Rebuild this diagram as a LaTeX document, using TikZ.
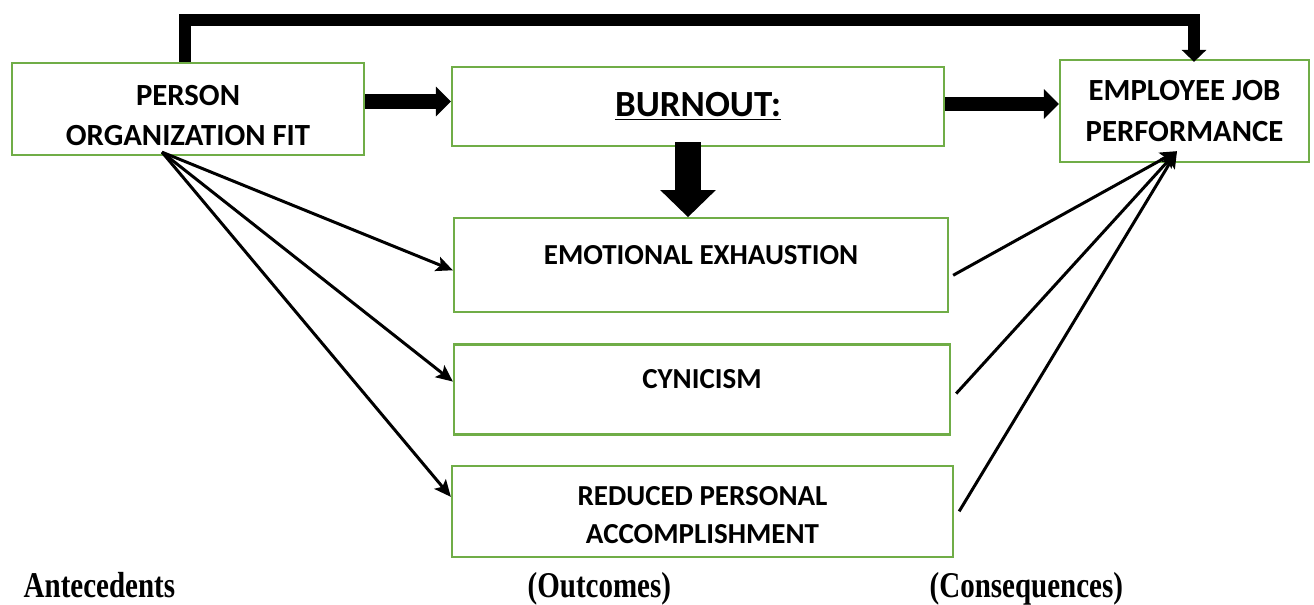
\documentclass[tikz,border=0pt]{standalone}
\usepackage{fontspec}
\setsansfont{Carlito}
\newfontfamily\captionserif{Liberation Serif}
\usepackage{xcolor}
\usepackage{graphicx}
\usepackage{tikz}
\usetikzlibrary{arrows.meta, positioning}
\definecolor{boxgreen}{HTML}{70AD47}

\begin{document}
\begin{tikzpicture}[
        box/.style={rectangle, draw=boxgreen, line width=1.3pt, align=center,
                    font=\sffamily\bfseries\fontsize{16.5}{21.5}\selectfont},
        bigbox/.style={box, font=\sffamily\bfseries\fontsize{17.5}{23}\selectfont},
        thinarr/.style={-{Stealth[length=9.5pt, width=8.5pt, inset=2pt]}, line width=1.7pt},
        fatarr/.style={-{Triangle[length=8.5pt, width=16.5pt]}, line width=8pt},
        downarr/.style={-{Triangle[length=15.4pt, width=30.7pt]}, line width=14.8pt},
        looparr/.style={-{Triangle[length=6.8pt, width=13.7pt]}, line width=6.8pt},
        caption/.style={anchor=base west, font=\captionserif\bfseries\fontsize{16.5}{20}\selectfont}
    ]
        \useasboundingbox (0,0) rectangle (26.28,-12.08);

        \node[bigbox, minimum width=7.04cm, minimum height=1.84cm] (pof) at (3.76,-2.18) {\rule{0pt}{0.67cm}PERSON\\ORGANIZATION FIT};
        \node[box, minimum width=9.84cm, minimum height=1.58cm,
              font=\sffamily\bfseries\fontsize{21}{25}\selectfont] (burnout) at (13.96,-2.13) {\underline{BURNOUT:}};
        \node[bigbox, minimum width=4.98cm, minimum height=2.04cm] (emp) at (23.69,-2.22) {EMPLOYEE JOB\\PERFORMANCE};

        \node[box, minimum width=9.88cm, minimum height=1.88cm, text depth=0.4cm,
              below=1.40cm of burnout, xshift=0.06cm] (emo) {EMOTIONAL EXHAUSTION};
        \node[box, minimum width=9.92cm, minimum height=1.80cm, text depth=0.44cm,
              below=0.60cm of emo, xshift=0.02cm] (cyn) {CYNICISM};
        \node[box, minimum width=10.02cm, minimum height=1.82cm,
              below=0.58cm of cyn, xshift=0.01cm] (rpa) {\rule{0pt}{0.53cm}REDUCED PERSONAL\\ACCOMPLISHMENT};

        \draw[fatarr] ([yshift=0.15cm]pof.east) -- ([yshift=0.15cm]pof.east -| burnout.west);
        \draw[fatarr] ([yshift=0.05cm]burnout.east) -- ([yshift=0.05cm]burnout.east -| emp.west);
        \draw[downarr] ([xshift=-0.2cm, yshift=0.1cm]burnout.south) -- ([xshift=-0.2cm]burnout.south |- emo.north);
        \draw[looparr] ([xshift=-0.06cm]pof.north) -- ++(0,0.84) -| ([xshift=0.19cm, yshift=-0.06cm]emp.north);

        \coordinate (pofout) at ([xshift=-0.52cm, yshift=0.08cm]pof.south);
        \coordinate (empin) at ([xshift=-0.15cm, yshift=0.24cm]emp.south);

        \draw[thinarr] (pofout) -- ([yshift=-0.1cm]emo.west);
        \draw[thinarr] (pofout) -- ([yshift=0.16cm]cyn.west);
        \draw[thinarr] (pofout) -- ([yshift=0.29cm]rpa.west);

        \draw[thinarr] ([xshift=0.08cm, yshift=-0.2cm]emo.east) -- (empin);
        \draw[thinarr] ([xshift=0.1cm, yshift=-0.08cm]cyn.east) -- (empin);
        \draw[thinarr] ([xshift=0.1cm]rpa.east) -- (empin);

        \node[caption] (ante) at (0.35,-11.94) {\scalebox{1}[1.25]{Antecedents}};
        \node[caption] (outc) at (10.43,-11.94) {\scalebox{1}[1.25]{(Outcomes)}};
        \node[caption] (cons) at (18.47,-11.94) {\scalebox{1}[1.25]{(Consequences)}};
    \end{tikzpicture}
\end{document}
